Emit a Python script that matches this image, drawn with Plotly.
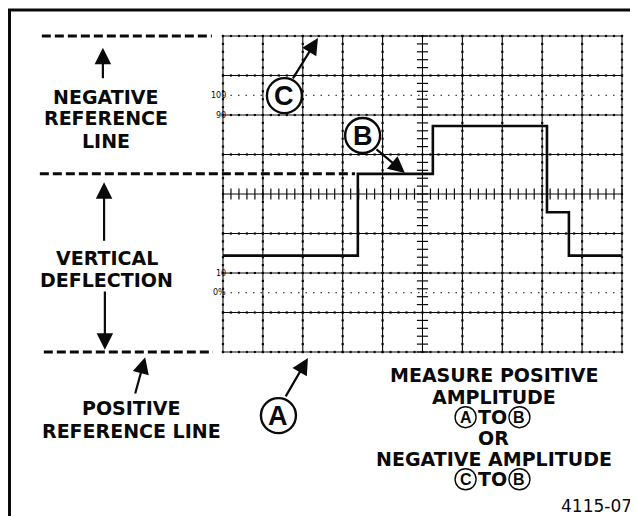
import numpy as np
import plotly.graph_objects as go

# ---- data (units: graticule divisions; x 0..10, y 0..8) ----
wave_time = [0, 3.38, 5.26, 8.12, 8.67, 10]
wave_level = [2.44, 4.51, 5.72, 3.54, 2.44, 2.44]

grid_x = list(range(0, 11))
grid_y = list(range(0, 9))
percent_levels = [6.5, 6.0, 2.0, 1.5]
percent_labels = ["100", "90", "10", "0%"]

positive_ref = 0
negative_ref = 8
b_level = wave_level[1]

# ---- figure ----
W, H = 638, 516
# the page body has an 8px margin; ranges chosen so the graticule sits where the reference shows it
XR = [-5.388, 10.602]
YR = [-4.354, 8.709]
OFF = 8

fig = go.Figure()
INK = "#0a0a0a"

# graticule major lines
gx, gy = [], []
for x in grid_x:
    gx += [x, x, None]; gy += [grid_y[0], grid_y[-1], None]
for y in grid_y:
    gx += [grid_x[0], grid_x[-1], None]; gy += [y, y, None]
fig.add_trace(go.Scatter(x=gx, y=gy, mode="lines", line=dict(color=INK, width=1.1),
                         hoverinfo="skip", showlegend=False))

# minor subdivision marks
sub_x = np.round(np.arange(grid_x[0], grid_x[-1] + 0.001, 0.2), 3)
sub_y = np.round(np.arange(grid_y[0], grid_y[-1] + 0.001, 0.2), 3)
cx, cy = 5, 4
mx, my = [], []
for y in grid_y:
    if y == cy:
        continue
    mx += list(sub_x); my += [y] * len(sub_x)
for x in grid_x:
    if x == cx:
        continue
    mx += [x] * len(sub_y); my += list(sub_y)
fig.add_trace(go.Scatter(x=mx, y=my, mode="markers",
                         marker=dict(symbol="square", size=2.2, color=INK, line=dict(width=0)),
                         hoverinfo="skip", showlegend=False))
# center-line ticks
fig.add_trace(go.Scatter(x=list(sub_x), y=[cy] * len(sub_x), mode="markers",
                         marker=dict(symbol="line-ns-open", size=8, color=INK,
                                     line=dict(width=1.2, color=INK)),
                         hoverinfo="skip", showlegend=False))
fig.add_trace(go.Scatter(x=[cx] * len(sub_y), y=list(sub_y), mode="markers",
                         marker=dict(symbol="line-ew-open", size=8, color=INK,
                                     line=dict(width=1.2, color=INK)),
                         hoverinfo="skip", showlegend=False))

# dotted 0% / 100% lines
for lv in (percent_levels[0], percent_levels[3]):
    fig.add_trace(go.Scatter(x=[grid_x[0], grid_x[-1]], y=[lv, lv], mode="lines",
                             line=dict(color=INK, width=1.1, dash="1.5px,6px"),
                             hoverinfo="skip", showlegend=False))

# reference dashed lines
for (x0, x1, lv) in [(-4.54, -0.28, negative_ref), (-4.59, 3.31, b_level), (-4.49, -0.25, positive_ref)]:
    fig.add_trace(go.Scatter(x=[x0, x1], y=[lv, lv], mode="lines",
                             line=dict(color=INK, width=3, dash="9px,4px"),
                             hoverinfo="skip", showlegend=False))

# waveform
fig.add_trace(go.Scatter(x=wave_time, y=wave_level, mode="lines",
                         line=dict(color=INK, width=2.6, shape="hv"),
                         hoverinfo="skip", showlegend=False))

annotations = []
shapes = []

# percent labels
for lv, lb in zip(percent_levels, percent_labels):
    annotations.append(dict(x=0.12, y=lv, text=lb, showarrow=False, xanchor="right",
                            yanchor="middle", font=dict(family="DejaVu Sans", size=8, color=INK)))

# arrows (tip x,y ; tail ax,ay)
arrows = [
    (-3.01, 7.70, -3.01, 6.89),
    (-2.98, 4.30, -2.98, 2.78),
    (-2.96, 0.06, -2.96, 1.57),
    (-1.95, -0.13, -2.21, -1.09),
    (2.13, -0.15, 1.55, -1.16),
    (2.38, 7.95, 1.73, 6.89),
    (4.56, 4.53, 3.81, 5.16),
]
for (x, y, ax, ay) in arrows:
    annotations.append(dict(x=x, y=y, ax=ax, ay=ay, xref="x", yref="y", axref="x", ayref="y",
                            text="", showarrow=True, arrowhead=2, arrowsize=1.5,
                            arrowwidth=2.2, arrowcolor=INK, standoff=0, startstandoff=0))

# circled letters (large markers on the graticule)
def circled(lb, x, y, r_px, lw, fsize):
    rx, ry = r_px / 39.9, r_px / 39.5
    shapes.append(dict(type="circle", xref="x", yref="y", x0=x - rx, x1=x + rx, y0=y - ry, y1=y + ry,
                       line=dict(color=INK, width=lw), fillcolor="white", layer="above"))
    annotations.append(dict(x=x, y=y, text="<b>" + lb + "</b>", showarrow=False,
                            xanchor="center", yanchor="middle",
                            font=dict(family="Liberation Sans", size=fsize, color=INK)))

circled("A", 1.39, -1.61, 17.5, 2.4, 27)
circled("B", 3.50, 5.48, 17.5, 2.4, 27)
circled("C", 1.54, 6.49, 17.5, 2.4, 27)

# text labels
def label(txt, x, y, size=19, bold=True, anchor="center"):
    annotations.append(dict(x=x, y=y, text=("<b>%s</b>" % txt) if bold else txt, showarrow=False,
                            xanchor=anchor, yanchor="middle",
                            font=dict(family="DejaVu Sans", size=size, color=INK)))

label("NEGATIVE", -2.94, 6.46)
label("REFERENCE", -2.94, 5.92)
label("LINE", -2.94, 5.34)
label("VERTICAL", -2.91, 2.38)
label("DEFLECTION", -2.91, 1.82)
label("POSITIVE", -2.30, -1.42)
label("REFERENCE LINE", -2.30, -2.00)
label("MEASURE POSITIVE", 6.79, -0.58)
label("AMPLITUDE", 6.79, -1.14)
label("TO", 6.76, -1.65)
label("OR", 6.79, -2.18)
label("NEGATIVE AMPLITUDE", 6.79, -2.71)
label("TO", 6.76, -3.22)
circled("A", 6.08, -1.65, 10.5, 1.4, 16)
circled("B", 7.43, -1.65, 10.5, 1.4, 16)
circled("C", 6.08, -3.22, 10.5, 1.4, 16)
circled("B", 7.43, -3.22, 10.5, 1.4, 16)
label("4115-07", 10.30, -3.90, size=17, bold=False, anchor="right")

# page frame (left and top rules)
shapes.append(dict(type="line", xref="paper", yref="paper", x0=(9.5 - OFF) / W, x1=(9.5 - OFF) / W,
                   y0=0, y1=1 - (9 - OFF) / H, line=dict(color=INK, width=3)))
shapes.append(dict(type="line", xref="paper", yref="paper", x0=0, x1=1,
                   y0=1 - (10 - OFF) / H, y1=1 - (10 - OFF) / H, line=dict(color=INK, width=3)))

fig.update_layout(
    width=W, height=H, margin=dict(l=0, r=0, t=0, b=0),
    paper_bgcolor="white", plot_bgcolor="white",
    xaxis=dict(range=XR, visible=False, fixedrange=True),
    yaxis=dict(range=YR, visible=False, fixedrange=True),
    annotations=annotations, shapes=shapes, showlegend=False,
)
fig.write_html("out.html")
